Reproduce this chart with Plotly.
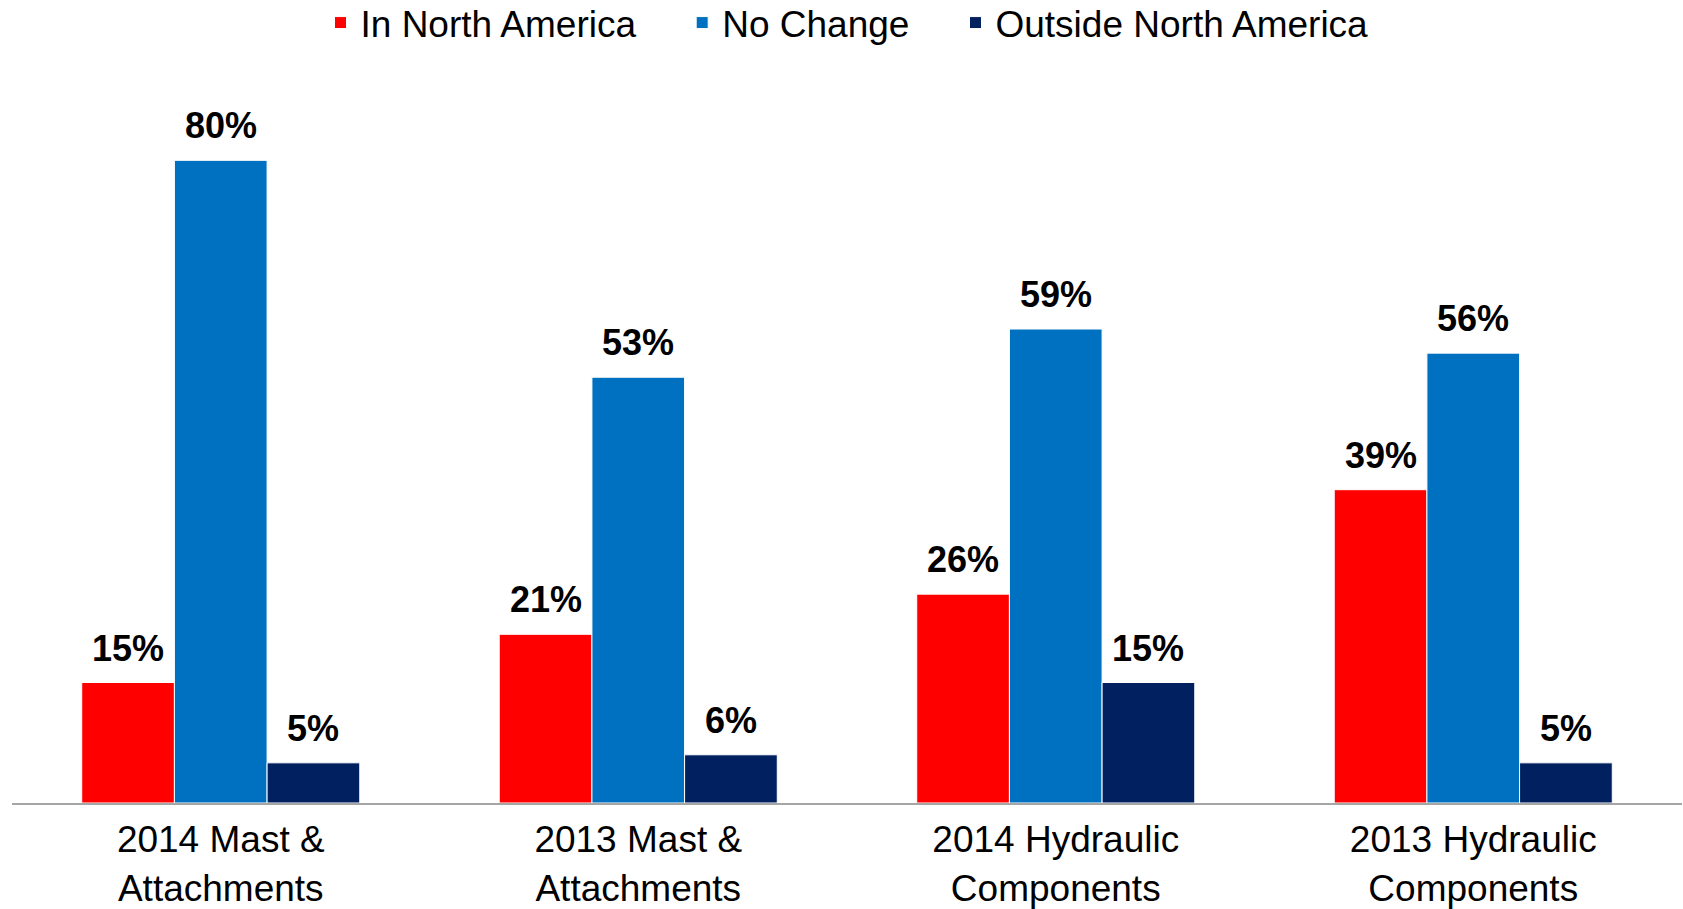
import plotly.graph_objects as go

# Survey results: where production is moving, by component group
categories = ["2014 Mast &<br>Attachments", "2013 Mast &<br>Attachments",
              "2014 Hydraulic<br>Components", "2013 Hydraulic<br>Components"]
in_north_america = [15, 21, 26, 39]
no_change = [80, 53, 59, 56]
outside_north_america = [5, 6, 15, 5]

series = [
    ("In North America", in_north_america, "#FF0000"),
    ("No Change", no_change, "#0070C0"),
    ("Outside North America", outside_north_america, "#002060"),
]

font_family = "Arial, Liberation Sans, sans-serif"
bargap = 0.334
bar_w = (1 - bargap) / len(series)
legend_pad = "\u00a0" * 4   # extra room between legend entries

fig = go.Figure()
for j, (name, values, color) in enumerate(series):
    fig.add_trace(go.Bar(
        x=categories, y=values,
        name=name + (legend_pad if j < len(series) - 1 else ""),
        marker=dict(color=color, line=dict(color="#FFFFFF", width=1)),
        hovertemplate="%{y}%<extra>" + name + "</extra>",
    ))
    # value labels sit a little above each bar
    for i, v in enumerate(values):
        fig.add_annotation(
            x=i + (j - 1) * bar_w, y=v, text=f"<b>{v}%</b>",
            showarrow=False, yanchor="bottom", yshift=12,
            font=dict(family=font_family, size=36, color="#000000"),
        )

fig.update_layout(
    width=1683, height=909,
    barmode="group", bargap=bargap, bargroupgap=0,
    plot_bgcolor="white", paper_bgcolor="white",
    font=dict(family=font_family, size=37, color="#000000"),
    margin=dict(l=12, r=1, t=80, b=106, autoexpand=False),
    showlegend=True,
    legend=dict(orientation="h", x=0.5, xanchor="center", y=1.0788, yanchor="middle",
                font=dict(size=37), bgcolor="rgba(0,0,0,0)"),
    xaxis=dict(showline=True, linecolor="#A6A6A6", linewidth=2, ticks="",
               showgrid=False, tickfont=dict(size=37), ticklabelstandoff=3),
    yaxis=dict(range=[0, 90], visible=False, showgrid=False),
)

# drop the page's default body margin so the figure fills the window
fig.write_html("out.html", config={"displayModeBar": False},
               post_script="document.body.style.margin = '0';")
